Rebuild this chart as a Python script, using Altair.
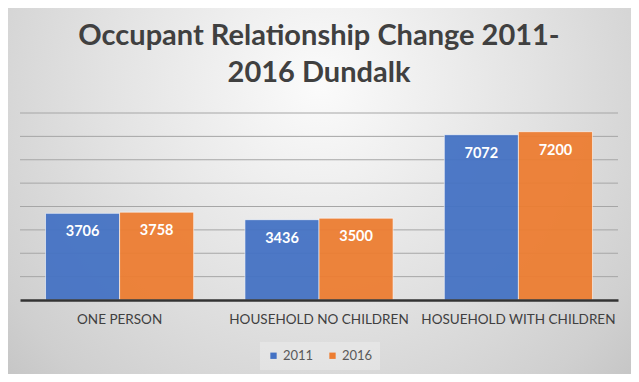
import altair as alt
import pandas as pd

title_lines = ["Occupant Relationship Change 2011-", "2016 Dundalk"]
categories = ["ONE PERSON", "HOUSEHOLD NO CHILDREN", "HOSUEHOLD WITH CHILDREN"]
years = ["2011", "2016"]
values_2011 = [3706, 3436, 7072]
values_2016 = [3758, 3500, 7200]
grid_values = [1000, 2000, 3000, 4000, 5000, 6000, 7000, 8000]
colors = ["#4472C4", "#ED7D31"]

rows = []
for c, a, b in zip(categories, values_2011, values_2016):
    rows.append({"cat": c, "year": years[0], "value": a})
    rows.append({"cat": c, "year": years[1], "value": b})
df = pd.DataFrame(rows)
grid_df = pd.DataFrame({"v": grid_values})
one_df = pd.DataFrame({"a": [0]})

W, H = 598, 187
PAD = {"left": 12, "top": 105, "right": 13, "bottom": 74}

bg = alt.Chart(one_df).mark_rect(
    fill=alt.RadialGradient(
        gradient="radial",
        stops=[
            alt.GradientStop(offset=0, color="#fbfbfb"),
            alt.GradientStop(offset=0.45, color="#e3e3e3"),
            alt.GradientStop(offset=0.8, color="#cfcfcf"),
            alt.GradientStop(offset=1, color="#bfbfbf"),
        ],
        x1=0.5, y1=0.33, r1=0, x2=0.5, y2=0.33, r2=0.75,
    ),
    strokeWidth=0,
).encode(
    x=alt.value(-PAD["left"]),
    x2=alt.value(W + PAD["right"]),
    y=alt.value(-PAD["top"]),
    y2=alt.value(H + PAD["bottom"]),
)

title = alt.Chart(one_df).mark_text(
    font="Lato", fontSize=29, fontWeight="bold", color="#404040",
    lineHeight=37, align="center", baseline="alphabetic",
).encode(
    x=alt.value(W / 2),
    y=alt.value(-68),
    text=alt.value(title_lines),
)

yscale = alt.Scale(domain=[0, 8000], nice=False)

grid = alt.Chart(grid_df).mark_rule(color="#a6a6a6", strokeWidth=1).encode(
    y=alt.Y("v:Q", scale=yscale, axis=None)
)

xenc = alt.X(
    "cat:N",
    sort=categories,
    scale=alt.Scale(paddingInner=0.257, paddingOuter=0.128),
    axis=alt.Axis(
        title=None, labelAngle=0, ticks=False, tickSize=0, grid=False,
        domainColor="#333333", domainWidth=2.5,
        labelFont="Lato", labelFontSize=13.5, labelColor="#404040",
        labelPadding=12, zindex=1, labelLimit=300,
    ),
)

bars = alt.Chart(df).mark_bar(
    stroke="white", strokeWidth=1, strokeOpacity=0.6, opacity=0.94
).encode(
    x=xenc,
    xOffset=alt.XOffset("year:N", sort=years, scale=alt.Scale(paddingInner=0.0)),
    y=alt.Y("value:Q", scale=yscale, axis=None),
    color=alt.Color(
        "year:N",
        sort=years,
        scale=alt.Scale(domain=years, range=colors),
        legend=alt.Legend(
            orient="none", legendX=240, legendY=229, direction="horizontal",
            title=None, symbolType="square", symbolSize=40, symbolStrokeWidth=0,
            symbolOpacity=1, labelFont="Lato", labelFontSize=13,
            labelColor="#595959", padding=7, fillColor="rgba(255,255,255,0.25)",
            columnPadding=12, labelOffset=3,
        ),
    ),
)

labels = alt.Chart(df).mark_text(
    color="white", font="Lato", fontWeight="bold", fontSize=14.5,
    baseline="middle", dy=19,
).encode(
    x=alt.X("cat:N", sort=categories),
    xOffset=alt.XOffset("year:N", sort=years),
    y=alt.Y("value:Q", scale=yscale),
    text=alt.Text("value:Q", format="d"),
)

chart = alt.layer(bg, grid, bars, labels, title).properties(
    width=W, height=H,
    autosize=alt.AutoSizeParams(type="none"),
    padding=PAD,
).configure(background="#d0d0d0").configure_view(stroke=None)

chart.save("out.html", embed_options={"renderer": "svg", "actions": False})
